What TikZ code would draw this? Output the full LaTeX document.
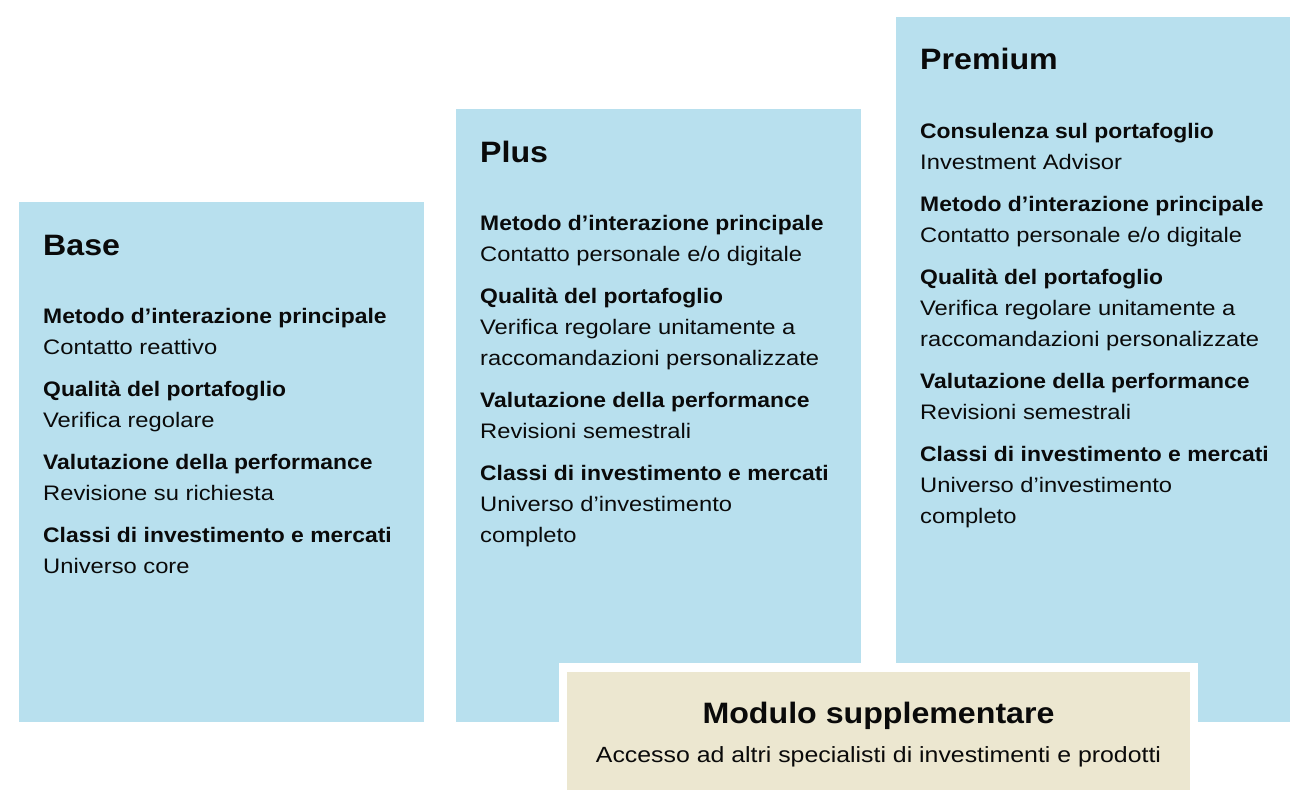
\documentclass[tikz,border=0pt]{standalone}
\usepackage{fontspec}
\setmainfont{Liberation Sans}
\newfontfamily\regf[FakeStretch=1.13]{Liberation Sans}
\newfontfamily\boldf[FakeStretch=1.09]{Liberation Sans}
\definecolor{tierblue}{RGB}{184,224,238}
\definecolor{modbeige}{RGB}{236,231,208}
\definecolor{ink}{RGB}{10,10,10}
\begin{document}
\begin{tikzpicture}[x=1pt,y=-1pt,
  tier/.style={fill=tierblue, draw=none, inner sep=0pt, outer sep=0pt, anchor=north west},
  ttl/.style={anchor=base west, inner sep=0pt, text=ink, font=\boldf\bfseries\fontsize{29.5}{34}\selectfont},
  lbl/.style={anchor=base west, inner sep=0pt, text=ink, font=\boldf\bfseries\fontsize{21}{25}\selectfont},
  val/.style={anchor=base west, inner sep=0pt, text=ink, font=\regf\fontsize{21}{25}\selectfont}]
\useasboundingbox (0,0) rectangle (1290,790);
\fill[white] (0,0) rectangle (1290,790);
% tier boxes
\node[tier, minimum width=405pt, minimum height=520pt] (base) at (19,202) {};
\node[tier, minimum width=405pt, minimum height=613pt] (plus) at (456,109) {};
\node[tier, minimum width=394pt, minimum height=705pt] (premium) at (896,17) {};
% supplementary module
\node[fill=white, inner sep=0pt, anchor=north west, minimum width=639pt, minimum height=127pt] (modframe) at (559,663) {};
\node[fill=modbeige, inner sep=0pt, anchor=north west, minimum width=623pt, minimum height=118pt] (modulo) at (567,672) {};
\node[anchor=base, inner sep=0pt, text=ink, font=\boldf\bfseries\fontsize{29.5}{34}\selectfont] (modtitle) at (878.5,723) {Modulo supplementare};
\node[anchor=base, inner sep=0pt, text=ink, font=\regf\fontsize{22}{26}\selectfont] (modtext) at (878.5,762) {Accesso ad altri specialisti di investimenti e prodotti};
% Base
\node[ttl] (b0) at (43,255) {Base};
\node[lbl] (b1) at (43,323) {Metodo d’interazione principale};
\node[val] (b2) at (43,354) {Contatto reattivo};
\node[lbl] (b3) at (43,396) {Qualità del portafoglio};
\node[val] (b4) at (43,427) {Verifica regolare};
\node[lbl] (b5) at (43,469) {Valutazione della performance};
\node[val] (b6) at (43,500) {Revisione su richiesta};
\node[lbl] (b7) at (43,542) {Classi di investimento e mercati};
\node[val] (b8) at (43,573) {Universo core};
% Plus
\node[ttl] (p0) at (480,162) {Plus};
\node[lbl] (p1) at (480,230) {Metodo d’interazione principale};
\node[val] (p2) at (480,261) {Contatto personale e/o digitale};
\node[lbl] (p3) at (480,303) {Qualità del portafoglio};
\node[val] (p4) at (480,334) {Verifica regolare unitamente a};
\node[val] (p5) at (480,365) {raccomandazioni personalizzate};
\node[lbl] (p6) at (480,407) {Valutazione della performance};
\node[val] (p7) at (480,438) {Revisioni semestrali};
\node[lbl] (p8) at (480,480) {Classi di investimento e mercati};
\node[val] (p9) at (480,511) {Universo d’investimento};
\node[val] (p10) at (480,542) {completo};
% Premium
\node[ttl] (r0) at (920,69) {Premium};
\node[lbl] (r1) at (920,138) {Consulenza sul portafoglio};
\node[val] (r2) at (920,169) {Investment Advisor};
\node[lbl] (r3) at (920,211) {Metodo d’interazione principale};
\node[val] (r4) at (920,242) {Contatto personale e/o digitale};
\node[lbl] (r5) at (920,284) {Qualità del portafoglio};
\node[val] (r6) at (920,315) {Verifica regolare unitamente a};
\node[val] (r7) at (920,346) {raccomandazioni personalizzate};
\node[lbl] (r8) at (920,388) {Valutazione della performance};
\node[val] (r9) at (920,419) {Revisioni semestrali};
\node[lbl] (r10) at (920,461) {Classi di investimento e mercati};
\node[val] (r11) at (920,492) {Universo d’investimento};
\node[val] (r12) at (920,523) {completo};
\end{tikzpicture}
\end{document}
